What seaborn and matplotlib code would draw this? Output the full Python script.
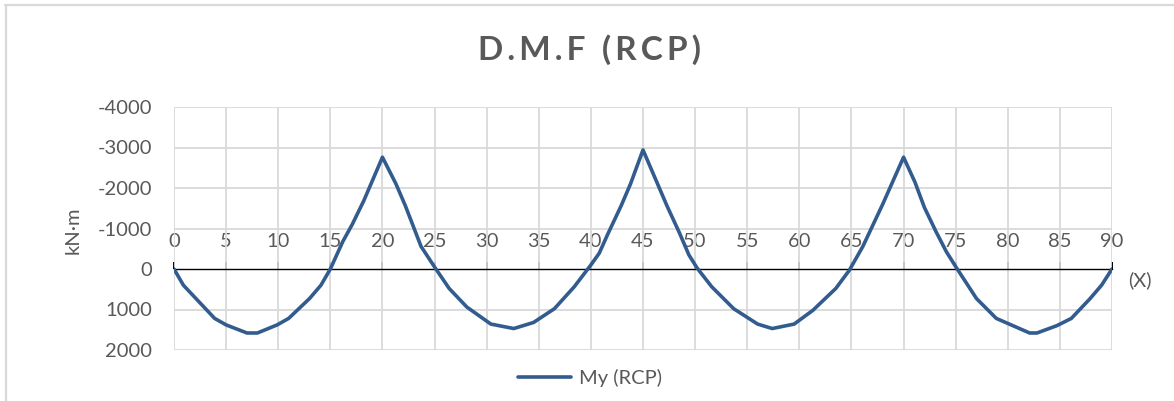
import matplotlib
matplotlib.use("Agg")
import matplotlib.pyplot as plt
from matplotlib.lines import Line2D
import seaborn as sns
import pandas as pd

# ---- data ----
x_pos = [0, 0.9, 3.9, 5, 7, 8, 9.9, 11, 13, 14.1, 15, 16.2, 17.1, 18.2, 20,
         21.3, 22.2, 23.7, 25, 26.4, 28.1, 30.4, 32.6, 34.5, 36.5, 38.4, 40, 40.8, 41.6, 42.9, 43.8, 45,
         46.4, 47.3, 48.5, 49.4, 50.2, 51.6, 53.7, 56, 57.4, 59.5, 61.3, 63.5, 64.8, 66.1, 68, 70,
         71.1, 72, 73.1, 74.1, 75.1, 77, 78.9, 82.1, 82.8, 84.7, 86.1, 87.9, 89, 90]
my_rcp = [0, 400, 1220, 1380, 1580, 1580, 1380, 1220, 730, 400, 0, -680, -1100, -1680, -2760,
          -2100, -1560, -560, -50, 480, 940, 1360, 1470, 1320, 980, 440, -100, -390, -850, -1560, -2100, -2940,
          -2100, -1560, -890, -350, -20, 440, 980, 1360, 1470, 1360, 1020, 480, 30, -560, -1600, -2760,
          -2140, -1520, -930, -430, -20, 730, 1220, 1580, 1580, 1400, 1220, 730, 400, 0]
x_ticks = list(range(0, 95, 5))
y_ticks = [-4000, -3000, -2000, -1000, 0, 1000, 2000]
title = "D.M.F (RCP)"
series_name = "My (RCP)"
y_label = "kN·m"
x_label = "(X)"

df = pd.DataFrame({"x": x_pos, "M": my_rcp})

sns.set_theme(style="white")
plt.rcParams["font.family"] = ["Lato", "DejaVu Sans"]

W, H = 1174, 401
fig = plt.figure(figsize=(W / 100, H / 100), dpi=100)
ax = fig.add_axes([174 / W, 1 - 350 / H, (1112 - 174) / W, (350 - 107) / H])

grid_c = "#d9d9d9"
text_c = "#595959"
line_c = "#335c8e"
fs = 14.5

sns.lineplot(data=df, x="x", y="M", ax=ax, color=line_c, linewidth=2.6,
             label=series_name, legend=False, zorder=3)

ax.set_xlim(0, 90)
ax.set_ylim(2000, -4000)
ax.set_xticks(x_ticks)
ax.set_yticks(y_ticks)
ax.set_yticklabels([str(v) for v in y_ticks])

for v in x_ticks:
    ax.axvline(v, color=grid_c, lw=1.3, zorder=1)
for v in y_ticks:
    if v != 0:
        ax.axhline(v, color=grid_c, lw=1.3, zorder=1)

for s in ["left", "right", "bottom"]:
    ax.spines[s].set_visible(False)
ax.spines["top"].set_position(("data", 0))
ax.spines["top"].set_color("black")
ax.spines["top"].set_linewidth(1.0)
ax.spines["top"].set_zorder(2)
ax.xaxis.set_ticks_position("top")
ax.xaxis.set_label_position("top")
ax.tick_params(axis="x", which="both", direction="out", length=5, width=1.4,
               color="black", pad=9, labelsize=fs, labelcolor=text_c)
ax.tick_params(axis="y", length=0, pad=16, labelsize=fs, labelcolor=text_c)
ax.set_xlabel("")
ax.set_ylabel("")

fig.text(73 / W, 1 - 230 / H, y_label, rotation=90, ha="center", va="center",
         fontsize=fs, color=text_c)
fig.text(1128 / W, 1 - 280 / H, x_label, ha="left", va="center",
         fontsize=fs, color=text_c)

# title with letter spacing
spaced = "\u2009".join(list(title))
fig.text(590 / W, 1 - 50 / H, spaced, ha="center", va="center", fontsize=24,
         fontweight="bold", color=text_c, family=["Lato", "DejaVu Sans"])

# legend
handle = Line2D([], [], color=line_c, linewidth=2.6)
fig.legend([handle], [series_name], loc="center", bbox_to_anchor=(590 / W, 1 - 378 / H),
           frameon=False, fontsize=fs, labelcolor=text_c, handlelength=2.6,
           handletextpad=0.4)

# chart frame lines
fig.add_artist(Line2D([5 / W, 1.0], [1 - 5 / H, 1 - 5 / H], color=grid_c, lw=1.6))
fig.add_artist(Line2D([6 / W, 6 / W], [0, 1 - 5 / H], color=grid_c, lw=1.6))

fig.savefig("out.png", dpi=100)
